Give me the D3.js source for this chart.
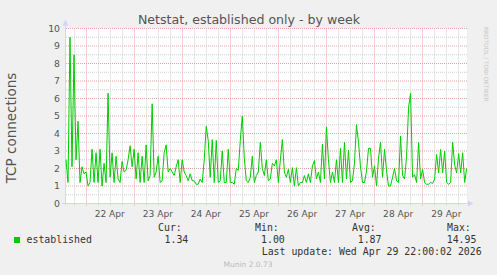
<!DOCTYPE html>
<html>
<head>
<meta charset="utf-8">
<script src="https://cdn.jsdelivr.net/npm/d3@7"></script>
<style>
  body { margin: 0; background: #f0f0f0; }
  text { font-family: "DejaVu Sans", sans-serif; fill: #555; }
  .mono { font-family: "DejaVu Sans Mono", monospace; fill: #333; }
</style>
</head>
<body>
<svg id="chart" width="497" height="275"></svg>
<script>
// hourly samples, first one at Apr 21 14:10
const established = [
  2.5, 1.2, 9.5, 2.1, 8.5, 2.5, 4.7, 1.2, 2.1, 1.7,
  1.8, 1.0, 1.2, 3.1, 1.2, 2.9, 1.2, 3.1, 1.0, 2.3,
  1.2, 6.3, 1.5, 2.9, 1.2, 2.7, 1.4, 1.2, 2.4, 1.8,
  1.9, 2.5, 3.3, 2.1, 3.1, 1.4, 2.9, 1.2, 2.7, 1.2,
  3.35, 1.3, 1.6, 5.7, 1.5, 1.8, 2.7, 1.2, 1.3, 2.9,
  3.35, 1.8, 2.0, 1.8, 1.6, 2.1, 2.5, 1.2, 2.5, 1.8,
  1.6, 1.3, 1.7, 1.3, 1.3, 1.1, 1.1, 1.4, 1.2, 2.5,
  4.4, 3.6, 1.5, 3.65, 1.2, 3.6, 1.2, 1.3, 3.0, 1.2,
  1.2, 3.1, 1.2, 1.2, 1.1, 2.0, 1.9, 3.6, 5.0, 2.6,
  1.3, 1.2, 1.5, 2.7, 1.2, 1.6, 1.8, 3.5, 2.0, 1.6,
  2.5, 1.3, 1.4, 2.3, 2.15, 2.5, 1.2, 2.5, 3.65, 1.8,
  1.5, 1.95, 1.2, 2.05, 1.0, 2.05, 1.0, 1.2, 1.2, 1.6,
  1.2, 1.7, 1.2, 2.15, 2.45, 1.4, 1.8, 1.2, 3.4, 1.4,
  4.37, 2.5, 1.2, 1.8, 1.2, 2.5, 1.2, 3.15, 1.2, 3.5,
  1.4, 3.05, 1.2, 1.3, 2.3, 4.5, 3.5, 2.1, 1.2, 1.2,
  1.85, 3.15, 3.15, 1.5, 2.15, 1.0, 2.6, 3.5, 1.5, 3.1,
  1.85, 1.0, 1.0, 1.5, 2.0, 1.3, 1.2, 3.85, 1.6, 1.4,
  2.7, 5.5, 6.3, 1.5, 1.65, 1.2, 3.5, 1.4, 1.95, 1.2,
  1.1, 1.1, 1.2, 1.15, 1.4, 2.8, 1.75, 3.1, 1.75, 3.0,
  1.2, 1.1, 1.2, 3.5, 2.2, 1.75, 2.85, 1.75, 2.9, 1.2,
  2.0
];
const yTicks = [0, 1, 2, 3, 4, 5, 6, 7, 8, 9, 10];
const dayLabels = ["22 Apr", "23 Apr", "24 Apr", "25 Apr", "26 Apr", "27 Apr", "28 Apr", "29 Apr"];
const statHeads = ["Cur:", "Min:", "Avg:", "Max:"];
const statValues = ["1.34", "1.00", "1.87", "14.95"];
const seriesName = "established";
const lastUpdate = "Last update: Wed Apr 29 22:00:02 2026";

var margin = {top: 28.5, right: 467, bottom: 203.5, left: 66},
  t0 = new Date(2026, 3, 21, 14, 10),
  t1 = new Date(2026, 3, 29, 22, 20);

var xScale = d3.scaleTime().domain([t0, t1]).range([margin.left, margin.right]);
var yScale = d3.scaleLinear().domain([0, 10]).range([margin.bottom, margin.top]);

var svg = d3.select("#chart");
var data = established.map((v, i) => [d3.timeHour.offset(t0, i), v]);

// canvas
svg.append("rect")
  .attr("x", margin.left).attr("y", margin.top)
  .attr("width", margin.right - margin.left)
  .attr("height", margin.bottom - margin.top)
  .attr("fill", "#fff");

// horizontal grid: half steps grey, whole steps red
var g = svg.append("g").attr("stroke-dasharray", "1,1").attr("fill", "none");
d3.range(0.5, 10, 1).forEach(v => {
  g.append("line")
    .attr("x1", margin.left).attr("x2", margin.right)
    .attr("y1", yScale(v)).attr("y2", yScale(v))
    .attr("stroke", "#cfcfcf");
});
yTicks.slice(1).forEach(v => {
  g.append("line")
    .attr("x1", margin.left).attr("x2", margin.right)
    .attr("y1", yScale(v)).attr("y2", yScale(v))
    .attr("stroke", "#eaa0a0");
});

// vertical grid
var sixHours = d3.timeHour.every(6).range(t0, t1).filter(d => d.getHours() != 0);
var days = d3.timeDay.range(d3.timeDay.ceil(t0), t1);
sixHours.forEach(d => {
  var x = Math.round(xScale(d)) + 0.5;
  g.append("line").attr("x1", x).attr("x2", x)
    .attr("y1", margin.top).attr("y2", margin.bottom + 2)
    .attr("stroke", "#cfcfcf");
});
days.forEach(d => {
  var x = Math.round(xScale(d)) + 0.5;
  g.append("line").attr("x1", x).attr("x2", x)
    .attr("y1", margin.top).attr("y2", margin.bottom + 2.5)
    .attr("stroke", "#eaa0a0");
});

// axes
var axisColor = "#cfd6f8";
svg.append("line")
  .attr("x1", margin.left - 4).attr("x2", 469)
  .attr("y1", margin.bottom).attr("y2", margin.bottom)
  .attr("stroke", axisColor);
svg.append("line")
  .attr("x1", margin.left - 0.5).attr("x2", margin.left - 0.5)
  .attr("y1", margin.bottom + 2).attr("y2", 24)
  .attr("stroke", axisColor);
svg.append("path")
  .attr("d", "M468,200.5 L473.5,203.5 L468,206.5 Z")
  .attr("fill", axisColor);
svg.append("path")
  .attr("d", "M62.5,25.5 L65.5,19.5 L68.5,25.5 Z")
  .attr("fill", axisColor);

// the series
svg.append("path")
  .datum(data)
  .attr("fill", "none")
  .attr("stroke", "#00cc00")
  .attr("stroke-width", 1)
  .attr("d", d3.line().x(d => xScale(d[0])).y(d => yScale(d[1])));

// y tick labels
svg.append("g").selectAll("text").data(yTicks).join("text")
  .attr("x", 60).attr("y", d => yScale(d) + 3.4)
  .attr("text-anchor", "end")
  .style("font-size", "9.3px")
  .text(d => d);

// x tick labels, at noon of each day
svg.append("g").selectAll("text").data(days).join("text")
  .attr("x", d => xScale(d3.timeHour.offset(d, 12)))
  .attr("y", 216.5)
  .attr("text-anchor", "middle")
  .style("font-size", "9.1px")
  .text((d, i) => dayLabels[i]);

// title & axis label
svg.append("text")
  .attr("x", 249).attr("y", 24)
  .attr("text-anchor", "middle")
  .style("font-size", "12.6px")
  .text("Netstat, established only - by week");

svg.append("text")
  .attr("transform", "translate(16,128) rotate(-90)")
  .attr("text-anchor", "middle")
  .style("font-size", "13.5px")
  .text("TCP connections");

svg.append("text")
  .attr("transform", "translate(484,27) rotate(90)")
  .style("font-size", "5.8px")
  .style("fill", "#c8c8c8")
  .text("RRDTOOL / TOBI OETIKER");

// legend
svg.append("rect")
  .attr("x", 14).attr("y", 237).attr("width", 6).attr("height", 6)
  .attr("fill", "#00cc00");
svg.append("text").attr("class", "mono")
  .attr("x", 26.5).attr("y", 243)
  .style("font-size", "9.9px")
  .text(seriesName);

var headX = [158, 255, 352, 447];
var valX = [164.5, 261, 357.7, 446.7];
statHeads.forEach((h, i) => {
  svg.append("text").attr("class", "mono")
    .attr("x", headX[i]).attr("y", 231)
    .style("font-size", "9.9px")
    .text(h);
  svg.append("text").attr("class", "mono")
    .attr("x", valX[i]).attr("y", 243)
    .style("font-size", "9.9px")
    .text(statValues[i]);
});
svg.append("text").attr("class", "mono")
  .attr("x", 261.7).attr("y", 255)
  .style("font-size", "9.9px")
  .text(lastUpdate);

svg.append("text")
  .attr("x", 248).attr("y", 267)
  .attr("text-anchor", "middle")
  .style("font-size", "7.5px")
  .style("fill", "#bbb")
  .text("Munin 2.0.73");
</script>
</body>
</html>
